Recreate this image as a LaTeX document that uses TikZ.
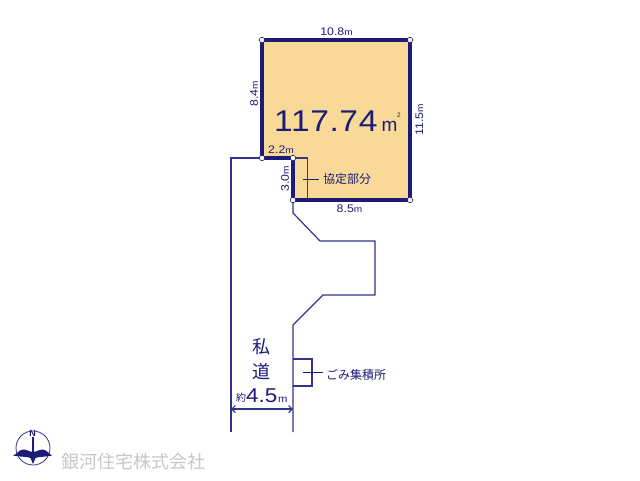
\documentclass[tikz,border=0pt]{standalone}
\usepackage{fontspec}
\usetikzlibrary{arrows.meta}
\setmainfont{Liberation Sans}
\newfontfamily\widefont[FakeStretch=1.12]{Liberation Sans}
\newfontfamily\cjk{Noto Sans CJK JP}
\definecolor{navy}{HTML}{1C1C78}
\definecolor{lotfill}{HTML}{F9D998}
\definecolor{thinline}{HTML}{34348A}
\newcommand{\unitm}{{\fontsize{9}{9}\selectfont m}}
\begin{document}
\begin{tikzpicture}[x=1pt,y=-1pt,
corner/.style={circle,draw=navy,fill=white,line width=.6pt,inner sep=0pt,minimum size=5.5pt},
boundary/.style={draw=navy,line width=3.8pt},
thin line/.style={draw=thinline,line width=1.2pt},
leader/.style={draw=navy,line width=.9pt},
dim/.style={text=navy,font=\widefont\fontsize{11}{12}\selectfont,inner sep=0pt},
note/.style={text=navy,font=\cjk\fontsize{12}{13}\selectfont,inner sep=0pt,anchor=west},
road name/.style={text=navy,font=\cjk\fontsize{18}{20}\selectfont,inner sep=0pt}]
\useasboundingbox (0,0) rectangle (640,480);
\fill[white] (0,0) rectangle (640,480);
% the lot
\coordinate (nw) at (262,40);
\coordinate (ne) at (410,40);
\coordinate (se) at (410,200);
\coordinate (sw) at (293,200);
\coordinate (notch) at (293,158);
\coordinate (step) at (262,158);
\fill[lotfill] (nw) -- (ne) -- (se) -- (sw) -- (notch) -- (step) -- cycle;
% road and neighbour
\coordinate (road a) at (231,158);
\coordinate (road b) at (231,432);
\coordinate (road c) at (293,432);
\coordinate (road d) at (293,325);
\draw[thin line] (step) -- (road a) -- (road b);
\draw[thin line] (sw) -- (293,213) -- (320,241) -- (375,241) -- (375,295) -- (323,295) -- (road d) -- (road c);
% hatch part and bin
\draw[thin line] (notch) -- (307.5,158) -- (307.5,200);
\draw[thin line] (293,359) -- (312,359) -- (312,386) -- (293,386);
\coordinate (kyo a) at (302.5,179);
\coordinate (kyo b) at (319,179);
\coordinate (gomi a) at (302.5,372.5);
\coordinate (gomi b) at (323,372.5);
\draw[leader] (kyo a) -- (kyo b);
\draw[leader] (gomi a) -- (gomi b);
\draw[boundary] (notch) -- (step) -- (nw) -- (ne) -- (se) -- (sw) -- cycle;
\node[corner] (c1) at (nw) {};
\node[corner] (c2) at (ne) {};
\node[corner] (c3) at (se) {};
\node[corner] (c4) at (sw) {};
\node[corner] (c5) at (notch) {};
\node[corner] (c6) at (step) {};
% lengths
\node[dim] (top) at (336.5,31.5) {10.8\unitm};
\node[dim] (bottom) at (349.5,209) {8.5\unitm};
\node[dim,rotate=90] (left) at (254,94) {8.4\unitm};
\node[dim,rotate=90] (right) at (419.5,120) {11.5\unitm};
\node[dim] (mid) at (281,150) {2.2\unitm};
\node[dim,rotate=90] (short) at (285,179) {3.0\unitm};
\node[text=navy,font=\widefont\addfontfeatures{LetterSpace=2}\fontsize{30}{32}\selectfont,inner sep=0pt,anchor=base west] (area) at (274,131) {117.74};
\node[text=navy,font=\fontsize{19}{20}\selectfont,inner sep=0pt,anchor=base west] (unit) at (381.5,131) {m};
\node[text=navy,font=\fontsize{6.5}{6.5}\selectfont,inner sep=0pt] (sq) at (399,115) {2};
% notes
\node[note] (kyo) at (323,179) {協定部分};
\node[note] (gomi) at (326,374.5) {ごみ集積所};
\node[road name] (road1) at (261,347) {私};
\node[road name] (road2) at (261,372) {道};
\node[text=navy,font=\cjk\fontsize{10}{11}\selectfont,inner sep=0pt] (yaku) at (241,398) {約};
\node[text=navy,font=\widefont\fontsize{20}{22}\selectfont,inner sep=0pt,anchor=base west] (width) at (246,402) {4.5};
\node[text=navy,font=\widefont\fontsize{10}{11}\selectfont,inner sep=0pt,anchor=base west] (widthm) at (278,402) {m};
\draw[thin line,{Straight Barb[length=3.5pt,width=7pt]}-{Straight Barb[length=3.5pt,width=7pt]}] (road a |- 0,409) -- (road c |- 0,409);
% compass and company
\node[text=navy,font=\bfseries\fontsize{9}{10}\selectfont,inner sep=0pt] (north) at (32.5,433) {N};
\draw[thinline,line width=.8pt] (33,448) circle (17);
\draw[navy,line width=1.2pt] (33,437) -- (33,452);
\fill[navy] (13,455.5) .. controls (17,454) and (19,450) .. (23,449.5) .. controls (27,449.5) and (30,452) .. (33,452) .. controls (36,452) and (39,449.5) .. (43,449.5) .. controls (47,450) and (49,454) .. (52,455.5) .. controls (46,457) and (38,456.5) .. (35.5,458) -- (33,464) -- (30.5,458) .. controls (28,456.5) and (20,457) .. (13,455.5) -- cycle;
\node[text=black!22,font=\cjk\fontsize{18}{20}\selectfont,inner sep=0pt,anchor=west] (company) at (61,461.5) {銀河住宅株式会社};
\end{tikzpicture}
\end{document}
